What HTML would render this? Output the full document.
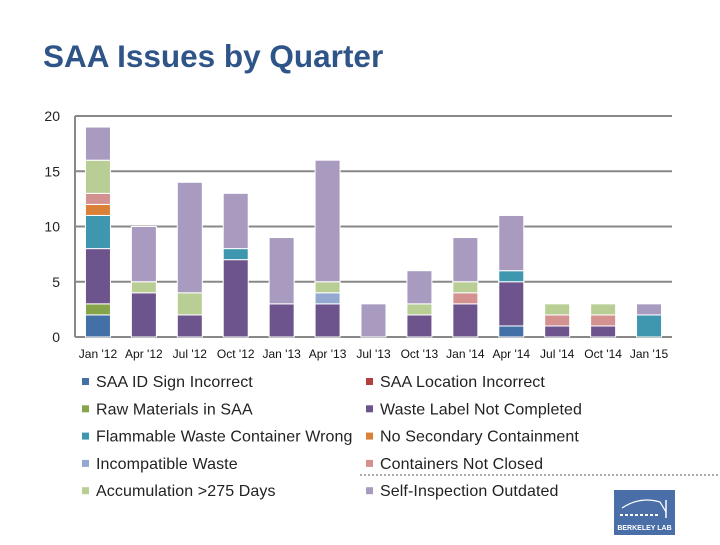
<!DOCTYPE html>
<html><head><meta charset="utf-8"><style>
body{margin:0;background:#fff;width:720px;height:540px;overflow:hidden;font-family:"Liberation Sans",sans-serif}
</style></head><body>
<svg id="c" width="720" height="540" xmlns="http://www.w3.org/2000/svg">
<text x="43" y="67" font-size="31.5" font-weight="bold" fill="#2F5588">SAA Issues by Quarter</text>
<line x1="360" y1="475" x2="720" y2="475" stroke="#555" stroke-dasharray="2,2"/>
<g>
<rect x="614" y="490" width="61" height="45" fill="#4A6FA8"/>
<path d="M622 508 Q640 496 660 502 L666 512" stroke="#fff" fill="none" stroke-width="1.2"/>
<line x1="666" y1="500" x2="666" y2="518" stroke="#fff" stroke-width="1.5"/>
<line x1="620" y1="515" x2="660" y2="515" stroke="#fff" stroke-width="2" stroke-dasharray="3,2"/>
<text x="644.5" y="530" font-size="7" fill="#fff" text-anchor="middle" font-weight="bold">BERKELEY LAB</text>
</g>
</svg>
<script>
const categories=["Jan '12","Apr '12","Jul '12","Oct '12","Jan '13","Apr '13","Jul '13","Oct '13","Jan '14","Apr '14","Jul '14","Oct '14","Jan '15"];
const seriesNames=["SAA ID Sign Incorrect","SAA Location Incorrect","Raw Materials in SAA","Waste Label Not Completed","Flammable Waste Container Wrong","No Secondary Containment","Incompatible Waste","Containers Not Closed","Accumulation >275 Days","Self-Inspection Outdated"];
const seriesColors=["#4470A8","#B0413E","#86A44A","#6E548D","#3E97AE","#DA8137","#93A9D0","#D39190","#B9CE95","#A89BBF"];
const idSign=[2,0,0,0,0,0,0,0,0,1,0,0,0];
const location_=[0,0,0,0,0,0,0,0,0,0,0,0,0];
const rawMaterials=[1,0,0,0,0,0,0,0,0,0,0,0,0];
const wasteLabel=[5,4,2,7,3,3,0,2,3,4,1,1,0];
const flammable=[3,0,0,1,0,0,0,0,0,1,0,0,2];
const noSecondary=[1,0,0,0,0,0,0,0,0,0,0,0,0];
const incompatible=[0,0,0,0,0,1,0,0,0,0,0,0,0];
const containersNotClosed=[1,0,0,0,0,0,0,0,1,0,1,1,0];
const accumulation=[3,1,2,0,0,1,0,1,1,0,1,1,0];
const selfInspection=[3,5,10,5,6,11,3,3,4,5,0,0,1];
const yTicks=[0,5,10,15,20];
const stackOrder=[idSign,location_,rawMaterials,wasteLabel,flammable,noSecondary,incompatible,containersNotClosed,accumulation,selfInspection];
const stackColors=["#4470A8","#B0413E","#86A44A","#6E548D","#3E97AE","#DA8137","#93A9D0","#D39190","#B9CE95","#A89BBF"];
const NS="http://www.w3.org/2000/svg";
const svg=document.getElementById('c');
const L=75,R=672,T=116,B=337,yMax=20;
const y=v=>B-(v/yMax)*(B-T);
const step=(R-L)/categories.length;
const x=i=>L+step*(i+0.5);
const bw=25;
function mk(tag,attrs){const e=document.createElementNS(NS,tag);for(const k in attrs)e.setAttribute(k,attrs[k]);svg.appendChild(e);return e;}
yTicks.forEach(t=>{
 const g=mk('line',{x1:L,x2:R,y1:y(t),y2:y(t),stroke:'#888','stroke-width':2});
 
 
 const tx=mk('text',{x:60,y:y(t)+5,'font-size':14,'text-anchor':'end',fill:'#222'});
 tx.textContent=t;
 
 
});
mk('line',{x1:L,x2:L,y1:T,y2:B,stroke:'#888','stroke-width':2});
categories.forEach((c,i)=>{
 let acc=0;
 stackOrder.forEach((s,k)=>{
  const v=s[i]; if(!v) return;
  const r=mk('rect',{x:x(i)-bw/2,y:y(acc+v),width:bw,height:y(acc)-y(acc+v),fill:stackColors[k],stroke:'#fff','stroke-width':1});
  
  
  acc+=v;
 });
 const t=mk('text',{x:x(i),y:358,'font-size':12,'text-anchor':'middle',fill:'#111'});
 t.textContent=c;
 
 
});
const legendOrder=[0,1,2,3,4,5,6,7,8,9];
legendOrder.forEach((k,j)=>{
 const col=j%2,row=Math.floor(j/2);
 const lx=col?366:82,ly=382+row*27.3;
 const r=mk('rect',{x:lx,y:ly-4,width:7,height:7,fill:seriesColors[k]});
 
 
 const t=mk('text',{x:lx+14,y:ly+5,'font-size':16,'letter-spacing':0.1,fill:'#222'});
 t.textContent=seriesNames[k];
 
 
});
</script>
</body></html>
